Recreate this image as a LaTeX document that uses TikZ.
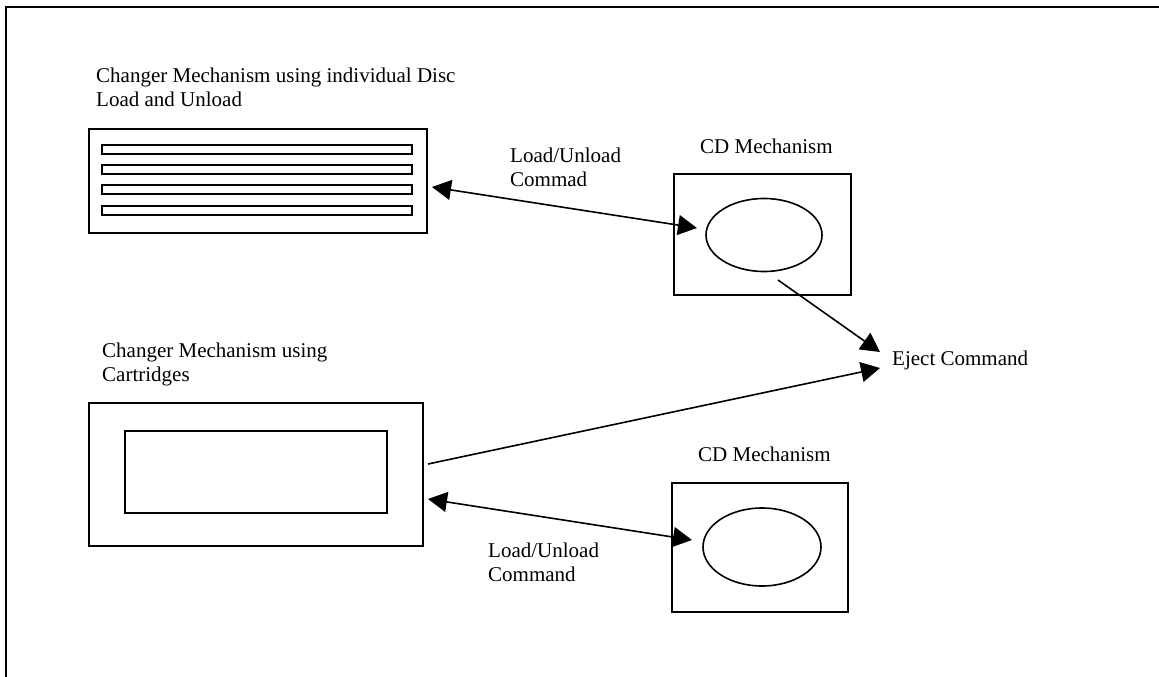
\documentclass[tikz,border=0pt]{standalone}
\usepackage{fontspec}
\setmainfont{Liberation Serif}
\usetikzlibrary{arrows.meta}
\usetikzlibrary{shapes.geometric}

\begin{document}
\begin{tikzpicture}
		[x=1pt, y=-1pt,
		 box/.style={draw=black, line width=1.7pt, rectangle, inner sep=0pt},
		 slot/.style={draw=black, line width=1.6pt, minimum width=310pt, minimum height=9pt, inner sep=0pt},
		 disc/.style={draw=black, line width=1.6pt, ellipse, inner sep=0pt},
		 txt/.style={anchor=base west, align=left, inner sep=0pt, font=\fontsize{21}{24}\selectfont},
		 link/.style={line width=1.6pt, -{Triangle[length=19pt,width=20pt]}},
		 twoway/.style={line width=1.6pt, {Triangle[length=19pt,width=20pt]}-{Triangle[length=19pt,width=20pt]}}]
		\useasboundingbox (0,0) rectangle (1159,677);
		\draw[line width=1.8pt] (6,677) -- (6,7) -- (1159,7);

		% changer with single discs
		\node[txt] (title1) at (96,106) {Changer Mechanism using individual Disc\\Load and Unload};
		\node[box, minimum width=338pt, minimum height=104pt] (discbox) at (258,181) {};
		\foreach \n/\y in {1/149.5, 2/169.5, 3/189.5, 4/210.5}
			\node[slot] (slot\n) at (257,\y) {};

		% changer with cartridges
		\node[txt] (title2) at (102,381) {Changer Mechanism using\\Cartridges};
		\node[box, minimum width=334pt, minimum height=143pt] (cartbox) at (256,474.5) {};
		\node[box, line width=1.6pt, minimum width=262pt, minimum height=82pt] (cartridge) at (256,472) {};

		% cd mechanisms
		\node[txt] (cdname1) at (700,153) {CD Mechanism};
		\node[box, minimum width=177pt, minimum height=121pt] (cd1) at (762.5,234.5) {};
		\node[disc, minimum width=116pt, minimum height=73pt] (disc1) at (764,235) {};
		\node[txt] (cdname2) at (698,461) {CD Mechanism};
		\node[box, minimum width=176pt, minimum height=129pt] (cd2) at (760,547.5) {};
		\node[disc, minimum width=118pt, minimum height=78pt] (disc2) at (762,547) {};

		% commands
		\node[txt] (cmd1) at (510,186) {Load/Unload\\Commad};
		\node[txt] (cmd2) at (488,581) {Load/Unload\\Command};
		\node[txt] (eject) at (892,365) {Eject Command};

		\coordinate (a1) at (432,187);
		\coordinate (b1) at (697,228);
		\coordinate (a2) at (428,499);
		\coordinate (b2) at (692,540);
		\coordinate (e1) at (778,280);
		\coordinate (e2) at (428,464);
		\coordinate (t1) at (880,352);
		\coordinate (t2) at (880,368);

		\draw[twoway] (a1) -- (b1);
		\draw[twoway] (a2) -- (b2);
		\draw[link] (e1) -- (t1);
		\draw[link] (e2) -- (t2);
	\end{tikzpicture}
\end{document}
